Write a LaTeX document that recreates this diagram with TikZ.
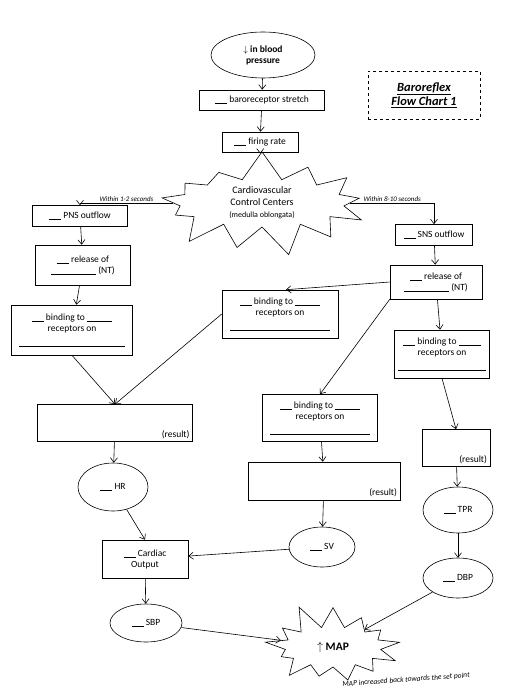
\documentclass[tikz,border=0pt]{standalone}
\usepackage{fontspec}
\setmainfont{Carlito}
\usepackage{tikz}
\usetikzlibrary{arrows.meta,shapes.geometric,shapes.symbols}

\newcommand{\blnk}[1][12pt]{\rule[-1pt]{#1}{0.5pt}}
\newcommand{\smalltxt}{\fontsize{8}{9.5}\selectfont}

\begin{document}
\begin{tikzpicture}[x=1pt,y=-1pt,line width=0.6pt,
    >={Straight Barb[length=4.5pt,width=7pt]},
    every node/.style={font=\fontsize{9.5}{11}\selectfont},
    box/.style={draw,align=center,inner sep=2pt},
    oval/.style={draw,ellipse,align=center,inner sep=1pt},
    burst/.style={draw,starburst,starburst points=13,starburst point height=30pt,random starburst=7,align=center,inner sep=0pt},
    note/.style={font=\fontsize{7}{8}\selectfont\itshape,inner sep=1.5pt}]
                \useasboundingbox (0,0) rectangle (525,700);

                \node[oval,minimum width=104pt,minimum height=46pt,font=\fontsize{9.5}{11}\selectfont\bfseries] (bp) at (263,55) {$\downarrow$ in blood\\pressure};
                \node[box,minimum width=125pt,minimum height=20pt] (stretch) at (262,100) {\blnk\ baroreceptor stretch};
                \node[box,minimum width=76pt,minimum height=20pt] (firing) at (260,142) {\blnk\ firing rate};
                \node[burst,minimum width=225pt,minimum height=108pt,font=\fontsize{10}{12}\selectfont] (cvc) at (262,203) {Cardiovascular\\Control Centers\\\smalltxt (medulla oblongata)};

                \node[draw,dashed,align=center,minimum width=112pt,minimum height=48pt,font=\fontsize{12.5}{14.5}\selectfont\bfseries\itshape] (title) at (424,95) {\underline{Baroreflex}\\\underline{Flow Chart 1}};

                % parasympathetic side
                \node[box,minimum width=95pt,minimum height=21pt] (pns) at (80,216) {\blnk\ PNS outflow};
                \node[box,minimum width=95pt,minimum height=40pt] (pnsrel) at (83,265) {\blnk\ release of\\\blnk[45pt]\ (NT)};
                \node[box,minimum width=121pt,minimum height=50pt] (pnsbind) at (72,330) {\blnk\ binding to \blnk[25pt]\\receptors on\\[3pt]\blnk[105pt]};

                % sympathetic side
                \node[box,minimum width=77pt,minimum height=21pt] (sns) at (434,235) {\blnk\ SNS outflow};
                \node[box,minimum width=92pt,minimum height=34pt] (snsrel) at (436,282) {\blnk\ release of\\\blnk[45pt]\ (NT)};
                \node[box,minimum width=116pt,minimum height=48pt] (midbind) at (280,314) {\blnk\ binding to \blnk[25pt]\\receptors on\\[3pt]\blnk[100pt]};
                \node[box,minimum width=95pt,minimum height=48pt] (snsbind) at (442,354) {\blnk\ binding to \blnk[22pt]\\receptors on\\[3pt]\blnk[88pt]};
                \node[box,minimum width=115pt,minimum height=47pt] (lowbind) at (320,418) {\blnk\ binding to \blnk[25pt]\\receptors on\\[3pt]\blnk[100pt]};

                % results
                \node[box,minimum width=155pt,minimum height=37pt,label={[anchor=south east,inner sep=3pt]south east:(result)}] (hrres) at (115,423) {};
                \node[box,minimum width=68pt,minimum height=37pt,label={[anchor=south east,inner sep=3pt]south east:(result)}] (tprres) at (456,448) {};
                \node[box,minimum width=152pt,minimum height=38pt,label={[anchor=south east,inner sep=3pt]south east:(result)}] (svres) at (324,481) {};

                \node[oval,minimum width=70pt,minimum height=48pt] (hr) at (113,487) {\blnk\ HR};
                \node[oval,minimum width=70pt,minimum height=46pt] (tpr) at (458,510) {\blnk\ TPR};
                \node[oval,minimum width=66pt,minimum height=40pt] (sv) at (322,547) {\blnk\ SV};
                \node[box,minimum width=86pt,minimum height=38pt] (co) at (145,559) {\blnk\ Cardiac\\Output};
                \node[oval,minimum width=70pt,minimum height=40pt] (dbp) at (458,578) {\blnk\ DBP};
                \node[oval,minimum width=72pt,minimum height=38pt] (sbp) at (146,623) {\blnk\ SBP};

                \node[burst,random starburst=11,starburst point height=26pt,minimum width=148pt,minimum height=92pt,font=\fontsize{11.5}{13}\selectfont\bfseries] (map) at (333,647) {$\uparrow$ MAP};
                \node[note,rotate=4,font=\fontsize{7.5}{8.5}\selectfont\itshape] (setpt) at (406,680) {MAP increased back towards the set point};

                \draw[->] (bp) -- (stretch);
                \draw[->] (stretch) -- (firing);
                \draw[->] (firing) -- (cvc);
                \draw[->] (cvc.west) -| node[note,above,pos=0.25] {Within 1-2 seconds} (pns);
                \draw[->] (cvc.east) -| node[note,above,pos=0.25] {Within 8-10 seconds} (sns);

                \draw[->] (pns) -- (pnsrel);
                \draw[->] (pnsrel) -- (pnsbind);
                \draw[->] (sns) -- (snsrel);
                \draw[->] (snsrel.west) -- ([xshift=6]midbind.north);
                \draw[->] (snsrel.south west) -- (lowbind.north);
                \draw[->] (snsrel) -- (snsbind);

                \draw[->] (pnsbind.south) -- (hrres.north);
                \draw[->] (midbind.west) -- (hrres.north);
                \draw[->] (snsbind.south) -- (tprres.north);
                \draw[->] (lowbind) -- (svres);

                \draw[->] (hrres) -- (hr);
                \draw[->] (tprres) -- (tpr);
                \draw[->] (svres) -- (sv);
                \draw[->] (hr) -- (co.north);
                \draw[->] (sv) -- (co);
                \draw[->] (co) -- (sbp);
                \draw[->] (tpr) -- (dbp);
                \draw[->] (sbp) -- (map);
                \draw[->] (dbp) -- (map);
\end{tikzpicture}
\end{document}
